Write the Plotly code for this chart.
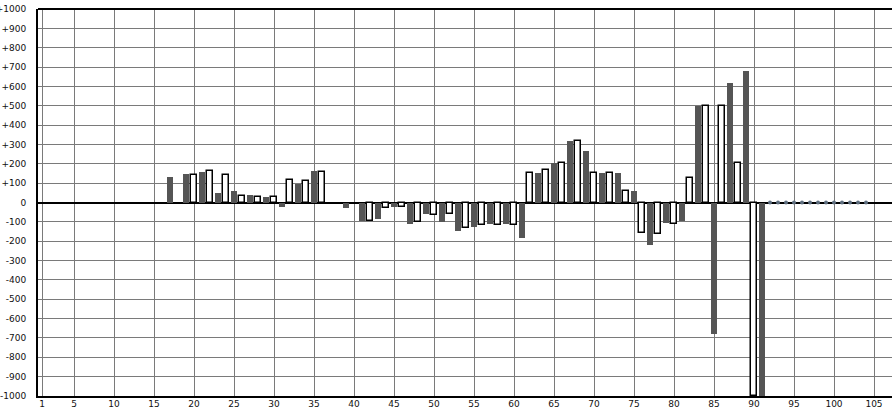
import plotly.graph_objects as go

# Data: one value per x position (17..91); odd positions drawn dark, even positions white
x_start = 17
values = [
    130, 0, 146, 144, 156, 165, 48, 144, 58, 36,      # 17-26
    38, 31, 31, 31, -23, 118, 98, 113, 161, 160,      # 27-36
    0, 0, -28, 0, -96, -98, -85, -26, -22, -21,       # 37-46
    -110, -100, -59, -67, -100, -57, -146, -134, -126, -114,  # 47-56
    -110, -114, -110, -114, -182, 153, 150, 169, 206, 205,    # 57-66
    318, 316, 268, 153, 153, 153, 153, 61, 61, -160,  # 67-76
    -219, -165, -105, -110, -98, 127, 500, 500, -677, 500,    # 77-86
    617, 202, 679, -1000, -1000,                      # 87-91
]
marker_x = list(range(92, 105))
marker_y = [0] * len(marker_x)

x_tick_vals = [1, 5, 10, 15, 20, 25, 30, 35, 40, 45, 50, 55, 60, 65, 70, 75,
               80, 85, 90, 95, 100, 105]
y_tick_vals = list(range(-1000, 1001, 100))
y_tick_text = [("+%d" % v if v > 0 else "%d" % v) for v in y_tick_vals]

xs = list(range(x_start, x_start + len(values)))
pairs = [(x, v) for x, v in zip(xs, values) if v != 0]
dark_x = [x for x, v in pairs if x % 2 == 1]
dark_y = [v for x, v in pairs if x % 2 == 1]
white_x = [x for x, v in pairs if x % 2 == 0]
white_y = [v for x, v in pairs if x % 2 == 0]

fig = go.Figure()
fig.add_trace(go.Bar(x=dark_x, y=dark_y, width=0.74,
                     marker=dict(color="#555555", line=dict(width=0))))
fig.add_trace(go.Bar(x=white_x, y=white_y, width=0.64,
                     marker=dict(color="#ffffff", line=dict(color="#000000", width=1.5))))
fig.add_trace(go.Scatter(x=marker_x, y=marker_y, mode="markers",
                         marker=dict(size=4, color="#5f6f80", symbol="circle")))

font = dict(family="DejaVu Sans", size=9, color="#111111")
fig.update_layout(
    width=892, height=408,
    margin=dict(l=38, r=0, t=9, b=12, pad=0, autoexpand=False),
    paper_bgcolor="white", plot_bgcolor="white",
    showlegend=False, barmode="overlay", bargap=0,
    font=font,
    xaxis=dict(range=[0.5, 107.25], tickmode="array", tickvals=x_tick_vals,
               showgrid=True, gridcolor="#7a7a7a", gridwidth=1,
               showline=True, linecolor="#000000", linewidth=2,
               zeroline=False, ticks="", ticklabelstandoff=-2, tickfont=font,
               automargin=False),
    yaxis=dict(range=[-1000, 1000], tickmode="array", tickvals=y_tick_vals,
               ticktext=y_tick_text,
               showgrid=True, gridcolor="#7a7a7a", gridwidth=1,
               showline=True, linecolor="#000000", linewidth=2,
               zeroline=True, zerolinecolor="#000000", zerolinewidth=2,
               ticks="", ticklabelstandoff=8, tickfont=font, automargin=False),
    shapes=[dict(type="line", xref="paper", yref="paper", x0=0, x1=1, y0=1, y1=1,
                 line=dict(color="#000000", width=2))],
)
fig.write_html("out.html", config={"displayModeBar": False},
               post_script="document.body.style.margin='0';document.body.style.overflow='hidden';")
